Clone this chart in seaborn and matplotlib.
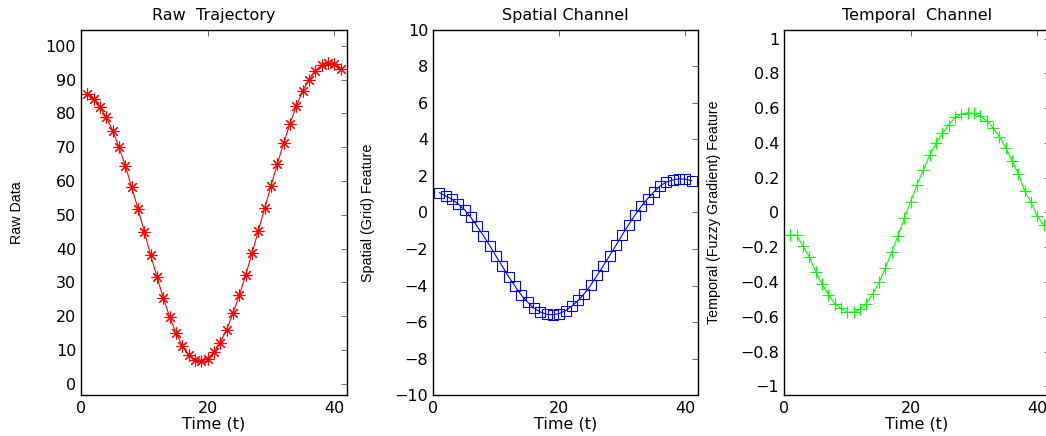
import numpy as np
import pandas as pd
import matplotlib
matplotlib.use("Agg")
import matplotlib.pyplot as plt
from matplotlib.ticker import FixedLocator, FixedFormatter
from matplotlib import font_manager
import seaborn as sns

# ---- data ----
t = list(range(1, 42))
raw = [85.8, 84.2, 81.8, 78.9, 74.9, 70.0, 64.5, 58.2, 51.8, 45.0,
       38.1, 31.6, 25.4, 19.8, 15.1, 11.2, 8.5, 7.1, 6.7, 7.4,
       9.4, 12.2, 16.0, 20.9, 26.2, 32.2, 38.6, 45.3, 51.9, 58.6,
       65.1, 71.2, 77.0, 82.2, 86.7, 90.0, 92.6, 94.2, 94.9, 94.6, 93.2]
spatial = [1.09, 0.91, 0.73, 0.46, 0.15, -0.27, -0.76, -1.27, -1.82, -2.40,
           -2.95, -3.53, -4.04, -4.53, -4.91, -5.24, -5.45, -5.58, -5.60, -5.54,
           -5.38, -5.13, -4.82, -4.44, -3.98, -3.45, -2.91, -2.36, -1.80, -1.22,
           -0.67, -0.15, 0.33, 0.75, 1.13, 1.46, 1.67, 1.78, 1.85, 1.82, 1.75]
temporal = [-0.130, -0.130, -0.195, -0.256, -0.340, -0.411, -0.472, -0.524, -0.551, -0.574,
            -0.574, -0.558, -0.524, -0.470, -0.402, -0.321, -0.228, -0.134, -0.033, 0.063,
            0.159, 0.245, 0.329, 0.398, 0.455, 0.503, 0.547, 0.566, 0.574, 0.570,
            0.554, 0.528, 0.486, 0.436, 0.373, 0.298, 0.222, 0.126, 0.059, -0.023, -0.071]

titles = ["Raw  Trajectory", "Spatial Channel", "Temporal  Channel"]
ylabels = ["Raw Data", "Spatial (Grid) Feature", "Temporal (Fuzzy Gradient) Feature"]
xlabel = "Time (t)"
xticks = [0, 20, 40]
xtick_labels = ["0", "20", "40"]
yticks_raw = [0, 10, 20, 30, 40, 50, 60, 70, 80, 90, 100]
yticks_spatial = [-10, -8, -6, -4, -2, 0, 2, 4, 6, 8, 10]
yticks_temporal = [-1, -0.8, -0.6, -0.4, -0.2, 0, 0.2, 0.4, 0.6, 0.8, 1]
ytick_labels_raw = ["0", "10", "20", "30", "40", "50", "60", "70", "80", "90", "100"]
ytick_labels_spatial = ["\u221210", "\u22128", "\u22126", "\u22124", "\u22122", "0", "2", "4", "6", "8", "10"]
ytick_labels_temporal = ["\u22121", "\u22120.8", "\u22120.6", "\u22120.4", "\u22120.2", "0",
                         "0.2", "0.4", "0.6", "0.8", "1"]

df = pd.DataFrame({"t": t, "raw": raw, "spatial": spatial, "temporal": temporal})

sns.set_style("white")
plt.rcParams["font.family"] = ["DejaVu Sans"]
for k in ["text.color", "axes.labelcolor", "xtick.color", "ytick.color"]:
    plt.rcParams[k] = "black"

installed = {f.name for f in font_manager.fontManager.ttflist}
if "Liberation Sans Narrow" in installed:
    ylab_family, ylab_size = ["Liberation Sans Narrow", "DejaVu Sans"], 12.5
else:
    ylab_family, ylab_size = ["Liberation Sans", "DejaVu Sans"], 10.3

fig = plt.figure(figsize=(10.46, 4.36), dpi=100)
W, H = 1046, 436
def pos(left, right, top=30, bottom=395):
    return [left / W, (H - bottom) / H, (right - left) / W, (bottom - top) / H]

ax1 = fig.add_axes(pos(81, 347))
ax2 = fig.add_axes(pos(433, 698))
ax3 = fig.add_axes(pos(784, 1050))

specs = [
    (ax1, "raw", "#ff0000", dict(marker=(8, 2, 0), markersize=8.5), (-3.3, 104.7),
     yticks_raw, ytick_labels_raw, -0.24),
    (ax2, "spatial", "#0000ff", dict(marker="s", markersize=6.5, markerfacecolor="none"), (-10, 10),
     yticks_spatial, ytick_labels_spatial, -0.245),
    (ax3, "temporal", "#00ff00", dict(marker="+", markersize=9), (-1.05, 1.05),
     yticks_temporal, ytick_labels_temporal, -0.263),
]

for i, (ax, col, color, mk, ylim, yt, ytl, lx) in enumerate(specs):
    sns.lineplot(data=df, x="t", y=col, ax=ax, color=color, linewidth=0.8,
                 markeredgecolor=color, markeredgewidth=0.8, sort=False,
                 errorbar=None, **mk)
    ax.set_xlim(0, 42)
    ax.set_ylim(*ylim)
    ax.xaxis.set_major_locator(FixedLocator(xticks))
    ax.xaxis.set_major_formatter(FixedFormatter(xtick_labels))
    ax.yaxis.set_major_locator(FixedLocator(yt))
    ax.yaxis.set_major_formatter(FixedFormatter(ytl))
    ax.tick_params(direction="in", top=True, right=True, length=4, width=0.6,
                   color="#555555", labelcolor="black", labelsize=11.5, pad=4)
    ax.tick_params(axis="y", pad=3.5)
    for s in ax.spines.values():
        s.set_color("black")
        s.set_linewidth(1.0)
    ax.set_title(titles[i], fontsize=11.5, pad=7.5, color="black")
    ax.set_xlabel(xlabel, fontsize=11.5, labelpad=0.5, color="black")
    ax.set_ylabel(ylabels[i], fontsize=ylab_size, family=ylab_family, va="center", color="black")
    ax.yaxis.set_label_coords(lx, 0.5)
    ax.grid(False)

fig.savefig("out.png", dpi=100)
